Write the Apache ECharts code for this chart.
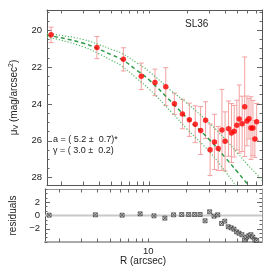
<!DOCTYPE html>
<html><head><meta charset="utf-8">
<script src="https://cdn.jsdelivr.net/npm/echarts@6/dist/echarts.min.js"></script>
<style>html,body{margin:0;padding:0;background:#fff}#c{width:270px;height:270px}</style>
</head><body><div id="c"></div>
<script>
// ---- data ----
const radius = [1.67,3.85,6.24,8.64,11.09,13.5,15.8,18.3,20.75,23.1,25.5,27.9,30.3,32.8,35.1,37.6,39.8,42.4,44.7,47.0,49.3,51.5,54.3,56.9,59.3,61.5,63.8,66.1,68.5,70.8];
const mu = [20.25,20.94,21.58,22.50,22.83,23.06,23.99,24.55,24.86,25.10,25.44,24.88,26.49,26.06,26.42,25.41,26.03,25.34,25.58,25.48,25.15,24.82,25.08,24.15,24.92,24.80,25.31,25.31,25.90,24.97];
const muErr = [0.42,0.6,0.63,0.72,0.72,1.03,0.58,0.8,0.9,1.0,1.3,1.0,1.4,1.5,1.2,2.2,1.6,1.5,1.6,1.4,1.35,1.85,1.5,2.7,1.35,1.1,1.7,1.5,1.0,1.0];
const residuals = [0.05,0.1,0.05,0.25,-0.05,-0.4,0.1,0.15,0.15,0.15,0.15,-0.8,0.56,-0.1,0.1,-1.2,-0.85,-1.7,-1.86,-2.06,-2.47,-2.67,-2.9,-3.67,-3.26,-3.06,-2.9,-3.26,-3.67,-3.77];
const modelR     = [1.55,2,3,4,5,6,8,10,15,20,30,40,50,60,70,78];
const modelMu    = [20.27,20.41,20.7,21.03,21.33,21.57,22.18,22.7,23.9,24.78,25.95,26.92,27.7,28.35,28.86,29.25];
const modelUpper = [20.17,20.28,20.5,20.78,21.03,21.24,21.78,22.25,23.3,23.98,25.05,25.92,26.67,27.3,27.78,28.15];
const modelLower = [20.37,20.54,20.9,21.28,21.63,21.92,22.63,23.2,24.45,25.38,26.6,27.67,28.55,29.25,29.78,30.2];
const muLabelTicks = [20,22,24,26,28];
const muMinorTicks = [19,19.5,20,20.5,21,21.5,22,22.5,23,23.5,24,24.5,25,25.5,26,26.5,27,27.5,28];
const resLabelTicks = [-2,0,2];
const resMinorTicks = [-4,-3.333,-2.667,-2,-1.333,-0.667,0,0.667,1.333,2,2.667,3.333,4];
const rLabelTicks = [10];
const rMinorTicks = [2,3,4,5,6,7,8,9,10,20,30,40,50,60,70];

const FONT = 'Liberation Sans';
const FRAME = '#555';
const chart = echarts.init(document.getElementById('c'), null, {renderer:'canvas'});

function xAx(grid, pos, labels, color, width) {
  return {
    type:'log', logBase:10, gridIndex:grid, position:pos, min:1.55, max:78,
    axisLine:{show:true, onZero:false, lineStyle:{color:color, width:width}},
    axisTick:{show:true, inside:true, length:3.5, customValues:rMinorTicks, lineStyle:{color:'#666', width:1}},
    axisLabel:{show:labels, customValues:rLabelTicks, fontFamily:FONT, fontSize:9.5, color:'#222', margin:4},
    splitLine:{show:false}, minorTick:{show:false}
  };
}
function yAx(grid, pos, inverse, min, max, ticks, len, labels, labelTicks, showLine, color, width, extra) {
  return Object.assign({
    type:'value', gridIndex:grid, position:pos, inverse:inverse, min:min, max:max,
    axisLine:{show:showLine, onZero:false, lineStyle:{color:color, width:width}},
    axisTick:{show:true, inside:true, length:len, customValues:ticks, lineStyle:{color:'#666', width:1}},
    axisLabel:{show:labels, customValues:labelTicks, fontFamily:FONT, fontSize:9.5, color:'#222', margin:5,
      formatter: v => String(v).replace('-', '\u2212')},
    splitLine:{show:false}
  }, extra || {});
}

const option = {
  animation:false,
  backgroundColor:'#fff',
  grid:[
    {left:41, top:10, width:221, height:175},
    {left:41, top:189, width:221, height:53}
  ],
  xAxis:[
    xAx(0,'bottom',false,FRAME,1),
    xAx(0,'top',false,FRAME,1),
    xAx(1,'bottom',true,'#aaa',2),
    xAx(1,'top',false,'#999',1)
  ],
  yAxis:[
    yAx(0,'left',true,18.9,28.4,muMinorTicks,2.5,true,muLabelTicks,true,FRAME,1,{
      name:'{m|\u03bc}{s|V} {m|(mag/arcsec}{p|2}{m|)}', nameLocation:'middle', nameRotate:90, nameGap:27,
      nameTextStyle:{fontFamily:FONT, fontSize:10, color:'#222',
        rich:{m:{fontFamily:FONT,fontSize:10,color:'#222'}, s:{fontFamily:FONT,fontSize:7,color:'#222',verticalAlign:'bottom',padding:[4,0,0,0]}, p:{fontFamily:FONT,fontSize:7,color:'#222',padding:[0,0,5,0]}}}
    }),
    yAx(0,'left',true,18.9,28.4,muLabelTicks,5,false,muLabelTicks,false,FRAME,1),
    yAx(0,'right',true,18.9,28.4,muMinorTicks,2.5,false,muLabelTicks,true,FRAME,1),
    yAx(0,'right',true,18.9,28.4,muLabelTicks,5,false,muLabelTicks,false,FRAME,1),
    yAx(1,'left',false,-4,4,resMinorTicks,2.5,true,resLabelTicks,true,FRAME,1,{
      name:'residuals', nameLocation:'middle', nameRotate:90, nameGap:27,
      nameTextStyle:{fontFamily:FONT, fontSize:10, color:'#222'}
    }),
    yAx(1,'left',false,-4,4,resLabelTicks,5,false,resLabelTicks,false,FRAME,1),
    yAx(1,'right',false,-4,4,resMinorTicks,2.5,false,resLabelTicks,true,'#999',1),
    yAx(1,'right',false,-4,4,resLabelTicks,5,false,resLabelTicks,false,'#999',1)
  ],
  series:[
    {
      type:'custom', xAxisIndex:0, yAxisIndex:0, z:1, clip:true,
      data: radius.map((r,i)=>[r, mu[i]-muErr[i], mu[i]+muErr[i]]),
      renderItem:(params, api)=>{
        const x = api.value(0);
        const a = api.coord([x, api.value(1)]);
        const b = api.coord([x, api.value(2)]);
        const w = 2.5;
        const st = {stroke:'#f3a0a0', lineWidth:1};
        return {type:'group', children:[
          {type:'line', shape:{x1:a[0],y1:a[1],x2:b[0],y2:b[1]}, style:st},
          {type:'line', shape:{x1:a[0]-w,y1:a[1],x2:a[0]+w,y2:a[1]}, style:st},
          {type:'line', shape:{x1:b[0]-w,y1:b[1],x2:b[0]+w,y2:b[1]}, style:st}
        ]};
      }
    },
    {type:'line', xAxisIndex:0, yAxisIndex:0, z:2, smooth:true, symbol:'none', clip:true,
      data: modelR.map((r,i)=>[r, modelUpper[i]]),
      lineStyle:{color:'#58b868', width:1.2, type:[1.2,1.8]}},
    {type:'line', xAxisIndex:0, yAxisIndex:0, z:2, smooth:true, symbol:'none', clip:true,
      data: modelR.map((r,i)=>[r, modelLower[i]]),
      lineStyle:{color:'#58b868', width:1.2, type:[1.2,1.8]}},
    {type:'line', xAxisIndex:0, yAxisIndex:0, z:3, smooth:true, symbol:'none', clip:true,
      data: modelR.map((r,i)=>[r, modelMu[i]]),
      lineStyle:{color:'#2f9a48', width:1.5, type:[4,3]}},
    {type:'scatter', xAxisIndex:0, yAxisIndex:0, z:5, symbol:'circle', symbolSize:5.5,
      data: radius.map((r,i)=>[r, mu[i]]),
      itemStyle:{color:'#ff0000'}},
    {type:'line', xAxisIndex:2, yAxisIndex:4, z:1, symbol:'none', silent:true,
      data: [[1.55,0],[78,0]],
      lineStyle:{color:'#c8c8c8', width:2}},
    {type:'scatter', xAxisIndex:2, yAxisIndex:4, z:5,
      symbol:'path://M0,0L10,0L10,10L0,10Z M0,0L10,10 M10,0L0,10', symbolSize:4,
      data: radius.map((r,i)=>[r, residuals[i]]),
      itemStyle:{color:'#c8c8c8', borderColor:'#333', borderWidth:0.8}}
  ],
  graphic:[
    {type:'text', left:185, top:19, style:{text:'SL36', font:'10px "Liberation Sans"', fill:'#222'}},
    {type:'text', left:53, top:135, style:{text:'a = ( 5.2 \u00b1  0.7)*', font:'9px "Liberation Sans"', fill:'#222'}},
    {type:'text', left:53, top:146, style:{text:'\u03b3 = ( 3.0 \u00b1  0.2)', font:'9px "Liberation Sans"', fill:'#222'}},
    {type:'text', left:120, top:256, style:{text:'R (arcsec)', font:'10px "Liberation Sans"', fill:'#222'}}
  ]
};
chart.setOption(option);
</script>
</body></html>
